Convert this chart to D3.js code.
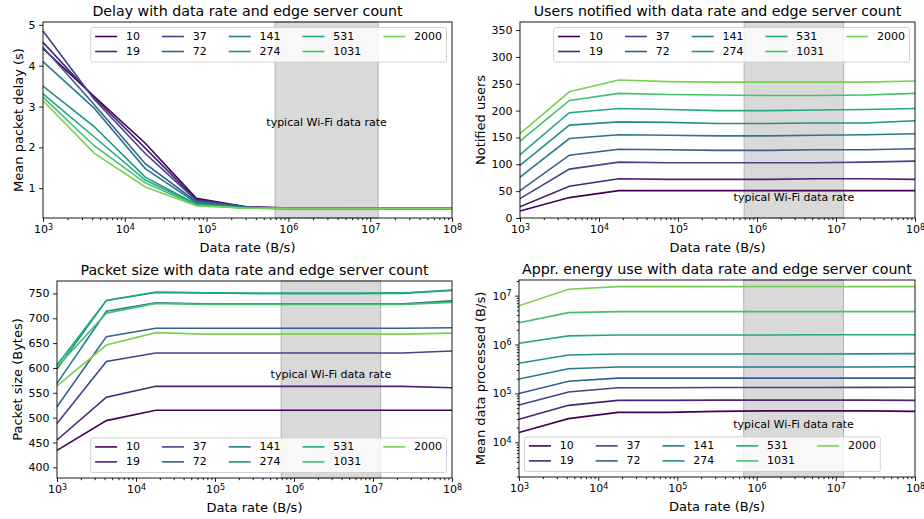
<!DOCTYPE html>
<html>
<head>
<meta charset="utf-8">
<script src="https://cdn.jsdelivr.net/npm/d3@7"></script>
<style>
  body { margin: 0; background: #fff; }
  svg text { font-family: "DejaVu Sans", sans-serif; fill: #000; }
</style>
</head>
<body>
<div id="chart"></div>
<script>
// x values (data rate, B/s)
var dataRates = [1000, 4217, 17783, 74989, 316228, 1333521, 5623413, 23713737, 100000000];
var serverCounts = ["10", "19", "37", "72", "141", "274", "531", "1031", "2000"];
var wifiBand = [687500, 12500000];

// one row per server count
var delayValues = [
  [4.42, 3.25, 2.10, 0.75, 0.54, 0.51, 0.50, 0.50, 0.50],
  [4.57, 3.22, 1.98, 0.72, 0.54, 0.51, 0.50, 0.50, 0.50],
  [4.85, 3.18, 1.85, 0.70, 0.53, 0.51, 0.50, 0.50, 0.50],
  [4.45, 3.05, 1.60, 0.67, 0.53, 0.50, 0.50, 0.50, 0.50],
  [4.10, 2.96, 1.48, 0.64, 0.52, 0.50, 0.50, 0.50, 0.50],
  [3.50, 2.51, 1.27, 0.61, 0.52, 0.50, 0.50, 0.50, 0.50],
  [3.31, 2.26, 1.20, 0.60, 0.51, 0.50, 0.50, 0.50, 0.50],
  [3.23, 2.04, 1.13, 0.58, 0.51, 0.50, 0.50, 0.50, 0.50],
  [3.14, 1.86, 1.03, 0.57, 0.51, 0.50, 0.50, 0.50, 0.50]
];
var usersValues = [
  [13, 38, 51, 51, 51, 51, 51, 51, 51],
  [21, 59, 73, 72, 72, 72, 73, 73, 72],
  [36, 91, 104, 103, 103, 103, 103, 104, 106],
  [51, 117, 128, 127, 126, 126, 127, 127, 129],
  [76, 148, 155, 154, 153, 153, 154, 155, 157],
  [98, 173, 179, 178, 176, 176, 177, 177, 181],
  [118, 196, 204, 202, 200, 200, 201, 202, 204],
  [143, 219, 232, 230, 229, 228, 228, 229, 232],
  [157, 235, 257, 254, 253, 253, 253, 253, 255]
];
var sizeValues = [
  [434, 494, 515, 515, 515, 515, 515, 515, 515],
  [455, 541, 563, 563, 563, 563, 563, 563, 560],
  [488, 613, 630, 630, 630, 630, 630, 630, 634],
  [522, 663, 680, 680, 680, 680, 680, 680, 681],
  [569, 714, 731, 729, 729, 729, 729, 729, 735],
  [598, 736, 752, 751, 750, 750, 750, 750, 756],
  [606, 736, 753, 751, 750, 750, 750, 751, 757],
  [602, 710, 730, 728, 728, 728, 728, 728, 732],
  [564, 646, 671, 668, 668, 668, 668, 668, 670]
];
var energyValues = [
  [1.58e4, 3.05e4, 4.1e4, 4.1e4, 4.3e4, 4.4e4, 4.4e4, 4.4e4, 4.3e4],
  [2.95e4, 5.7e4, 7.2e4, 7.2e4, 7.3e4, 7.3e4, 7.3e4, 7.3e4, 7.2e4],
  [5.8e4, 1.07e5, 1.31e5, 1.31e5, 1.32e5, 1.32e5, 1.32e5, 1.33e5, 1.34e5],
  [1.0e5, 1.77e5, 2.05e5, 2.05e5, 2.05e5, 2.05e5, 2.05e5, 2.05e5, 2.05e5],
  [1.97e5, 3.2e5, 3.47e5, 3.47e5, 3.47e5, 3.47e5, 3.47e5, 3.48e5, 3.5e5],
  [4.13e5, 6.1e5, 6.4e5, 6.4e5, 6.4e5, 6.4e5, 6.4e5, 6.45e5, 6.5e5],
  [1.06e6, 1.5e6, 1.57e6, 1.57e6, 1.57e6, 1.57e6, 1.58e6, 1.58e6, 1.58e6],
  [2.8e6, 4.5e6, 4.7e6, 4.7e6, 4.7e6, 4.7e6, 4.7e6, 4.7e6, 4.7e6],
  [6.2e6, 1.35e7, 1.53e7, 1.53e7, 1.53e7, 1.53e7, 1.53e7, 1.53e7, 1.53e7]
];

var xTicks = [1e3, 1e4, 1e5, 1e6, 1e7, 1e8];
var delayTicks = [1, 2, 3, 4, 5];
var usersTicks = [0, 50, 100, 150, 200, 250, 300, 350];
var sizeTicks = [400, 450, 500, 550, 600, 650, 700, 750];
var energyTicks = [1e4, 1e5, 1e6, 1e7];

var colors = serverCounts.map(function(d, i) { return d3.interpolateViridis(i * 0.1); });

var svg = d3.select("#chart").append("svg")
  .attr("width", 924).attr("height", 519);

function minorTicks(lo, hi) {
  var out = [];
  for (var e = Math.floor(Math.log10(lo)); e <= Math.ceil(Math.log10(hi)); e++) {
    for (var m = 2; m <= 9; m++) {
      var v = m * Math.pow(10, e);
      if (v >= lo && v <= hi) out.push(v);
    }
  }
  return out;
}

function supLabels(sel) {
  sel.selectAll(".tick text").each(function(d) {
    var t = d3.select(this);
    t.text("");
    t.append("tspan").text("10");
    t.append("tspan").attr("dy", "-0.45em").style("font-size", "8px")
      .text(Math.round(Math.log10(d)));
  });
}

function panel(cfg) {
  var g = svg.append("g");
  var x = d3.scaleLog().domain([1e3, 1e8]).range([cfg.left, cfg.right]);
  var y = (cfg.log ? d3.scaleLog() : d3.scaleLinear()).domain(cfg.yDomain).range([cfg.bottom, cfg.top]);

  // wifi band
  g.append("rect")
    .attr("x", x(wifiBand[0])).attr("y", cfg.top)
    .attr("width", x(wifiBand[1]) - x(wifiBand[0]))
    .attr("height", cfg.bottom - cfg.top)
    .attr("fill", "#d9d9d9").attr("stroke", "#b3b3b3").attr("stroke-width", 1);

  g.append("text")
    .attr("x", x(Math.sqrt(wifiBand[0] * wifiBand[1])))
    .attr("y", y(cfg.noteY))
    .attr("text-anchor", "middle").attr("dominant-baseline", "central")
    .style("font-size", "11px")
    .text("typical Wi-Fi data rate");

  var line = d3.line()
    .x(function(d, i) { return x(dataRates[i]); })
    .y(function(d) { return y(d); });

  g.append("g").selectAll("path").data(cfg.values).join("path")
    .attr("d", line)
    .attr("fill", "none")
    .attr("stroke", function(d, i) { return colors[i]; })
    .attr("stroke-width", 1.6);

  // axes
  var xa = g.append("g").attr("transform", "translate(0," + cfg.bottom + ")")
    .call(d3.axisBottom(x).tickValues(xTicks).tickSize(3.9).tickPadding(3.5));
  supLabels(xa);
  g.append("g").attr("transform", "translate(0," + cfg.bottom + ")")
    .call(d3.axisBottom(x).tickValues(minorTicks(1e3, 1e8)).tickSize(2.2).tickFormat(""));

  var yAxis = d3.axisLeft(y).tickValues(cfg.yTicks).tickSize(3.9).tickPadding(3.5);
  if (!cfg.log) yAxis.tickFormat(d3.format("d"));
  var ya = g.append("g").attr("transform", "translate(" + cfg.left + ",0)").call(yAxis);
  if (cfg.log) {
    supLabels(ya);
    g.append("g").attr("transform", "translate(" + cfg.left + ",0)")
      .call(d3.axisLeft(y).tickValues(minorTicks(cfg.yDomain[0], cfg.yDomain[1])).tickSize(2.2).tickFormat(""));
  }
  g.selectAll(".domain").remove();
  g.selectAll(".tick line").attr("stroke", "#000").attr("stroke-width", 0.9);
  g.selectAll(".tick text").style("font-size", "11px").attr("fill", "#000")
    .style("font-family", "DejaVu Sans, sans-serif");

  g.append("rect")
    .attr("x", cfg.left).attr("y", cfg.top)
    .attr("width", cfg.right - cfg.left).attr("height", cfg.bottom - cfg.top)
    .attr("fill", "none").attr("stroke", "#000").attr("stroke-width", 0.9);

  // labels
  g.append("text")
    .attr("x", (cfg.left + cfg.right) / 2).attr("y", cfg.top - 11)
    .attr("text-anchor", "middle").attr("dominant-baseline", "central")
    .style("font-size", "14.2px").text(cfg.title);
  g.append("text")
    .attr("x", (cfg.left + cfg.right) / 2).attr("y", cfg.bottom + 29)
    .attr("text-anchor", "middle").attr("dominant-baseline", "central")
    .style("font-size", "13px").text("Data rate (B/s)");
  g.append("text")
    .attr("transform", "translate(" + cfg.yLabelX + "," + (cfg.top + cfg.bottom) / 2 + ") rotate(-90)")
    .attr("text-anchor", "middle").attr("dominant-baseline", "central")
    .style("font-size", "13px").text(cfg.yLabel);

  // legend, 5 columns, column-major order
  var lg = g.append("g");
  var fs = 11, hl = 22, pad = 8.8, cs = 22, rowH = 15;
  var box = lg.append("rect");
  var colX = 0;
  for (var c = 0; c < 5; c++) {
    var maxW = 0;
    for (var r = 0; r < 2; r++) {
      var k = c * 2 + r;
      if (k >= serverCounts.length) continue;
      var it = lg.append("g");
      it.append("line").attr("x1", colX).attr("x2", colX + hl)
        .attr("y1", r * rowH).attr("y2", r * rowH)
        .attr("stroke", colors[k]).attr("stroke-width", 1.6);
      var tx = it.append("text").attr("x", colX + hl + pad).attr("y", r * rowH)
        .attr("dominant-baseline", "central").style("font-size", fs + "px")
        .text(serverCounts[k]);
      maxW = Math.max(maxW, tx.node().getComputedTextLength());
    }
    colX += hl + pad + maxW + cs;
  }
  var w = colX - cs + 8.8, h = 34.6;
  var lx = cfg.legend === "ll" ? cfg.left + 5.5 : cfg.right - 5.5 - w;
  var ly = cfg.legend === "ur" ? cfg.top + 5.5 : cfg.bottom - 5.5 - h;
  box.attr("x", -4.4).attr("y", -9).attr("width", w).attr("height", h)
    .attr("rx", 2).attr("fill", "#fff").attr("fill-opacity", 0.8)
    .attr("stroke", "#ccc").attr("stroke-width", 0.9);
  lg.attr("transform", "translate(" + (lx + 4.4) + "," + (ly + 9) + ")");
}

panel({ left: 43, right: 452, top: 22, bottom: 218, yDomain: [0.27, 5.07], yTicks: delayTicks,
  values: delayValues, title: "Delay with data rate and edge server count",
  yLabel: "Mean packet delay (s)", yLabelX: 18, noteY: 2.62, legend: "ur" });
panel({ left: 520, right: 915, top: 22, bottom: 218, yDomain: [0, 365], yTicks: usersTicks,
  values: usersValues, title: "Users notified with data rate and edge server count",
  yLabel: "Notified users", yLabelX: 480, noteY: 37.5, legend: "ur" });
panel({ left: 57, right: 452, top: 281, bottom: 478, yDomain: [378.5, 775], yTicks: sizeTicks,
  values: sizeValues, title: "Packet size with data rate and edge server count",
  yLabel: "Packet size (Bytes)", yLabelX: 17, noteY: 587, legend: "lr" });
panel({ left: 519, right: 915, top: 280, bottom: 477, yDomain: [Math.pow(10, 3.29), Math.pow(10, 7.32)],
  yTicks: energyTicks, log: true, values: energyValues,
  title: "Appr. energy use with data rate and edge server count",
  yLabel: "Mean data processed (B/s)", yLabelX: 480, noteY: 2.3e4, legend: "ll" });
</script>
</body>
</html>
